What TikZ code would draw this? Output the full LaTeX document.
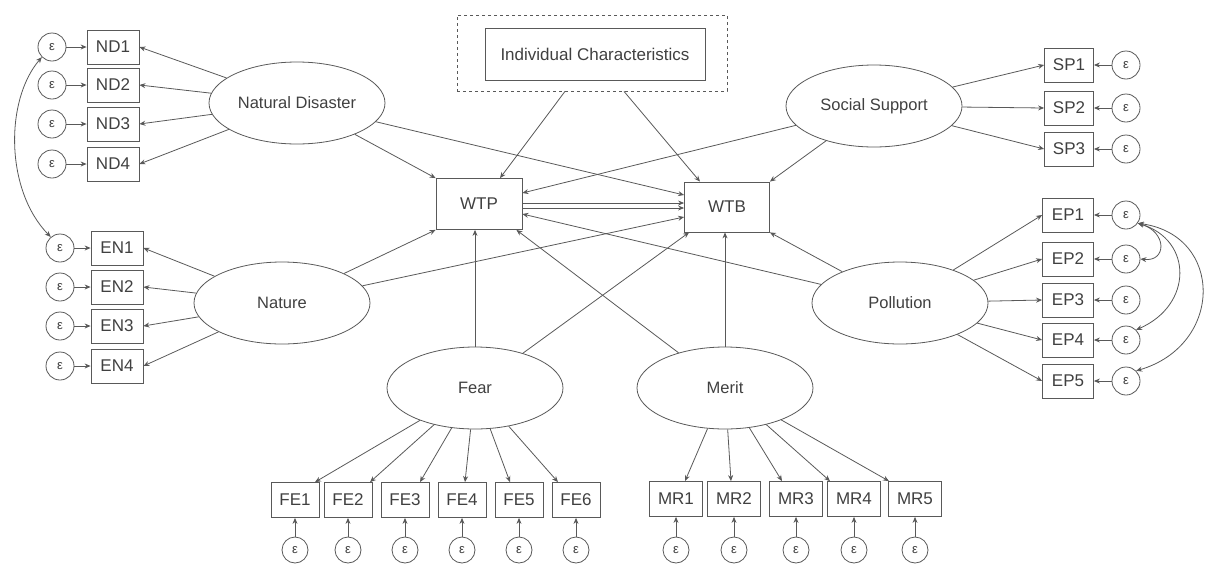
\documentclass[tikz,border=0pt]{standalone}
\usepackage{fontspec}
\setmainfont{Liberation Sans}
\usetikzlibrary{arrows.meta}
\usetikzlibrary{shapes.geometric}

\begin{document}
\begin{tikzpicture}[x=1pt,y=-1pt,>={Stealth[length=6pt,width=5pt]},
latent/.style={ellipse,draw=black!65,thick,inner sep=0pt,minimum width=176pt,minimum height=82pt,text=black!75,font=\fontsize{16.5}{19}\selectfont},
observed/.style={rectangle,draw=black!65,thick,inner sep=0pt,minimum width=52pt,minimum height=34pt,text=black!75,font=\fontsize{17}{19}\selectfont},
error/.style={circle,draw=black!65,thick,inner sep=0pt,minimum size=28pt,text=black!75,font=\fontsize{13}{15}\selectfont},
effect/.style={->,black!65,thick},
covar/.style={<->,black!65,thick}]
\useasboundingbox (0,0) rectangle (1205,563);
% The latent variables
\node[latent] (nd) at (297,103) {Natural Disaster};
\node[latent] (nat) at (282,303) {Nature};
\node[latent] (ss) at (874,106) {Social Support};
\node[latent] (poll) at (900,303) {Pollution};
\node[latent] (fear) at (475,388) {Fear};
\node[latent] (merit) at (725,388) {Merit};
% The outcomes and the controls
\node[observed,minimum width=86pt,minimum height=51pt] (wtp) at (479,204) {WTP};
\node[observed,minimum width=85pt,minimum height=50pt] (wtb) at (727,207) {WTB};
\node[draw=black!65,thick,dashed,minimum width=270pt,minimum height=76pt] (icframe) at (592,53) {};
\node[observed,minimum width=220pt,minimum height=52pt] (ic) at (595,54) {Individual Characteristics};
% Indicators on the left
\foreach \i/\y in {1/47,2/85,3/124,4/164}
{
  \node[observed] (nd\i) at (113,\y) {ND\i};
  \node[error] (end\i) at (52,\y) {ε};
  \draw[effect] (end\i) -- (nd\i);
  \draw[effect] (nd) -- (nd\i.east);
}
\foreach \i/\y in {1/248,2/287,3/326,4/366}
{
  \node[observed] (en\i) at (117,\y) {EN\i};
  \node[error] (een\i) at (60,\y) {ε};
  \draw[effect] (een\i) -- (en\i);
  \draw[effect] (nat) -- (en\i.east);
}
% Indicators on the right
\foreach \i/\y in {1/65,2/108,3/149}
{
  \node[observed,minimum width=49pt] (sp\i) at (1069,\y) {SP\i};
  \node[error] (esp\i) at (1126,\y) {ε};
  \draw[effect] (esp\i) -- (sp\i);
  \draw[effect] (ss) -- (sp\i.west);
}
\foreach \i/\y in {1/215,2/259,3/300,4/340,5/381}
{
  \node[observed,minimum width=51pt] (ep\i) at (1068,\y) {EP\i};
  \node[error] (eep\i) at (1126,\y) {ε};
  \draw[effect] (eep\i) -- (ep\i);
  \draw[effect] (poll) -- (ep\i.west);
}
% Indicators at the bottom
\foreach \i/\x/\d in {1/295/20,2/348/22,3/405/15,4/462/3,5/519/-9,6/576/-18}
{
  \node[observed,minimum width=48pt,minimum height=35pt] (fe\i) at (\x,500) {FE\i};
  \node[error,minimum size=26pt] (efe\i) at (\x,550) {ε};
  \draw[effect] (efe\i) -- (fe\i);
  \draw[effect] (fear) -- ([xshift=\d pt]fe\i.north);
}
\foreach \i/\x/\d in {1/676/9,2/734/-3,3/796/-14,4/854/-24,5/915/-26}
{
  \node[observed,minimum width=53pt,minimum height=35pt] (mr\i) at (\x,499) {MR\i};
  \node[error,minimum size=26pt] (emr\i) at (\x,550) {ε};
  \draw[effect] (emr\i) -- (mr\i);
  \draw[effect] (merit) -- ([xshift=\d pt]mr\i.north);
}
% Structural paths
\draw[effect] ([xshift=-27pt]icframe.south) -- ([xshift=21pt]wtp.north);
\draw[effect] ([xshift=32pt]icframe.south) -- ([xshift=-27pt]wtb.north);
\draw[effect] (nd) -- (wtp.north west);
\draw[effect] (nd) -- ([yshift=12pt]wtb.west);
\draw[effect] (ss) -- ([yshift=11pt]wtp.east);
\draw[effect] (ss) -- (wtb.north east);
\draw[effect] ([yshift=1pt]wtp.east) -- ([yshift=4pt]wtb.west);
\draw[effect] ([yshift=-4pt]wtp.east) -- ([yshift=-1pt]wtb.west);
\draw[effect] (nat) -- (wtp.south west);
\draw[effect] (nat) -- ([yshift=-10pt]wtb.west);
\draw[effect] (fear.north) -- (fear.north |- wtp.south);
\draw[effect] (fear) -- ([xshift=5pt]wtb.south west);
\draw[effect] (merit) -- ([xshift=-6pt]wtp.south east);
\draw[effect] (merit.north) -- (merit.north |- wtb.south);
\draw[effect] (poll) -- ([yshift=-10pt]wtp.east);
\draw[effect] (poll) -- (wtb.south east);
% Correlated errors
\draw[covar] (end1.225) .. controls (5,100) and (5,190) .. (een1.130);
\draw[covar] (eep1.-35) .. controls (1167,232) and (1167,262) .. (eep2.east);
\draw[covar] (eep1.-35) .. controls (1193,240) and (1193,305) .. (eep4.45);
\draw[covar] (eep1.-35) .. controls (1224,235) and (1224,345) .. (eep5.45);
\end{tikzpicture}
\end{document}
